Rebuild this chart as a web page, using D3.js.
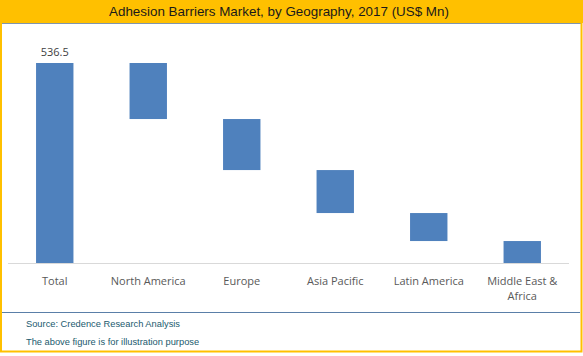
<!DOCTYPE html>
<html><head><meta charset="utf-8">
<script src="https://cdn.jsdelivr.net/npm/d3@7"></script>
<style>html,body{margin:0;padding:0;background:#fff;}svg{display:block;}</style>
</head><body>
<svg id="chart" width="583" height="356"></svg>
<script>
const titleText = "Adhesion Barriers Market, by Geography, 2017 (US$ Mn)";
const categories = ["Total","North America","Europe","Asia Pacific","Latin America","Middle East & Africa"];
const values = [536.5, 150.3, 136.9, 115.3, 75.1, 58.9];
const totalLabel = "536.5";
const notes = ["Source: Credence Research Analysis","The above figure is for illustration purpose"];

const W = 583, H = 356;
const svg = d3.select("#chart");

// background frame
svg.append("rect").attr("x",0).attr("y",0).attr("width",W).attr("height",23).attr("fill","#FFC000");
svg.append("line").attr("x1",1).attr("x2",581).attr("y1",23.5).attr("y2",23.5).attr("stroke","#7f95ad").attr("stroke-width",1);
svg.append("rect").attr("x",1).attr("y",0).attr("width",580.5).attr("height",351.5)
  .attr("fill","none").attr("stroke","#FFC000").attr("stroke-width",2);
svg.append("text").attr("x",279).attr("y",16).attr("text-anchor","middle")
  .attr("font-family","'Liberation Sans', Arial, sans-serif").attr("font-size",13.4).attr("fill","#1a1a1a")
  .text(titleText);

// scales
const x = d3.scaleBand().domain(categories).range([8,569]).paddingInner(0.6).paddingOuter(0.3);
const y = d3.scaleLinear().domain([0, values[0]]).range([263, 63]);

// waterfall segments
let running = values[0];
const segs = categories.map((c,i)=>{
  if(i===0) return {c, top: values[0], bottom: 0};
  const s = {c, top: running, bottom: running - values[i]};
  running -= values[i];
  return s;
});

svg.append("g").selectAll("rect").data(segs).join("rect")
  .attr("x", d=>x(d.c)).attr("width", x.bandwidth())
  .attr("y", d=>y(d.top)).attr("height", d=>Math.max(0, y(d.bottom)-y(d.top)))
  .attr("fill","#4F81BD");

// axis
const axis = svg.append("g").attr("transform","translate(0,263)")
  .call(d3.axisBottom(x).tickSize(0).tickPadding(0));
axis.select(".domain").attr("stroke","#d9d9d9").attr("d","M8,0.5H569");
axis.selectAll(".tick text").attr("font-family","'Open Sans', sans-serif").attr("font-size",11)
  .attr("fill","#595959").attr("dy",null).attr("y",21.5);

function wrap(sel, width){
  sel.each(function(){
    const t = d3.select(this);
    const words = t.text().split(/\s+/);
    t.text(null);
    let line = [], lineNo = 0;
    let tspan = t.append("tspan").attr("x",0).attr("y",21.5);
    for(const w of words){
      line.push(w);
      tspan.text(line.join(" "));
      if(tspan.node().getComputedTextLength() > width && line.length>1){
        line.pop(); tspan.text(line.join(" "));
        line=[w]; lineNo++;
        tspan = t.append("tspan").attr("x",0).attr("y",21.5+lineNo*15.5).text(w);
      }
    }
  });
}
axis.selectAll(".tick text").call(wrap, 88);

// total label
svg.append("text").attr("x", x(categories[0])+x.bandwidth()/2).attr("y", 56)
  .attr("text-anchor","middle").attr("font-family","'Open Sans', sans-serif").attr("font-size",11)
  .attr("fill","#404040").text(totalLabel);

// footer
svg.append("line").attr("x1",2).attr("x2",580).attr("y1",312.5).attr("y2",312.5).attr("stroke","#5a7fa8").attr("stroke-width",1.2);
svg.selectAll("text.note").data(notes).join("text").attr("class","note")
  .attr("x",26).attr("y",(d,i)=>327+i*18)
  .attr("font-family","'Liberation Sans', Arial, sans-serif").attr("font-size",9.3)
  .attr("fill","#215a6e").text(d=>d);
</script>
</body></html>
